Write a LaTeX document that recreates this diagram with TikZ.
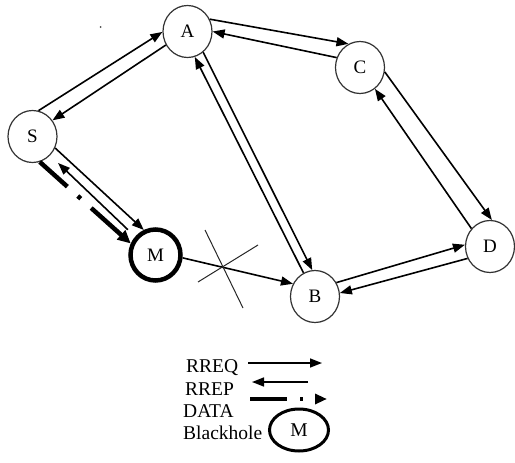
\documentclass[tikz,border=0pt]{standalone}
\usepackage{fontspec}
\setmainfont{Liberation Serif}
\usetikzlibrary{arrows.meta,shapes.geometric}

\begin{document}
\begin{tikzpicture}[x=1pt,y=-1pt,
  station/.style={ellipse, draw=black!80, line width=1.2pt, minimum width=49pt,
    minimum height=52pt, inner sep=0pt, font=\fontsize{19}{19}\selectfont},
  blackhole/.style={station, draw=black, line width=4.5pt, minimum width=50pt,
    minimum height=51pt},
  req/.style={line width=1.6pt, -{Triangle[length=12pt,width=9pt]}},
  datapath/.style={line width=4.5pt,
    dash pattern=on 37pt off 14pt on 4pt off 14pt on 200pt off 0pt,
    -{Triangle[length=13pt,width=12pt]}},
  legendtext/.style={anchor=base west, inner sep=0pt,
    font=\fontsize{19.5}{19.5}\selectfont},
  cut/.style={line width=1pt, draw=black!85},
]
\useasboundingbox (0,0) rectangle (515,463);

% network nodes
\node[station] (S) at (32.5,136.5) {S};
\node[station] (A) at (187.5,31.5) {A};
\node[station] (C) at (360,67.5) {C};
\node[station] (D) at (490,246.5) {D};
\node[station] (B) at (315,296.5) {B};
\node[blackhole] (M) at (155.5,255) {M};

% request / reply pairs
\draw[req] (S.77) -- (A.181);
\draw[req] (A.212) -- (S.39);
\draw[req] (A.29) -- (C.116);
\draw[req] (C.157) -- (A.0);
\draw[req] (A.-53) -- (B.96);
\draw[req] (B.116) -- (A.-74);
\draw[req] (C.-10) -- (D.86);
\draw[req] (D.136) -- (C.-55);
\draw[req] (B.33) -- (D.176);
\draw[req] (D.208) -- (B.8);
\draw[req] (S.-27) -- (M.115);
\draw[req, shorten <=10pt, shorten >=11pt] (M.138) -- (S.-47);

% data towards the blackhole
\draw[datapath] (S.-74) -- (M.155);

% forwarding that never happens
\draw[req] (M.-6) -- (B.150);
\coordinate (x1) at (205,230);
\coordinate (x2) at (243,308);
\coordinate (x3) at (198,282);
\coordinate (x4) at (258,245);
\draw[cut] (x1) -- (x2);
\draw[cut] (x3) -- (x4);

% small speck
\fill[black!70] (100.5,27) circle (1pt);

% legend
\node[legendtext] (lreq) at (186,372) {RREQ};
\node[legendtext] (lrep) at (185,395) {RREP};
\node[legendtext] (ldata) at (183,417) {DATA};
\node[legendtext] (lbh) at (183,439) {Blackhole};

\coordinate (q1) at (248,363);
\coordinate (q2) at (322,363);
\draw[req] (q1) -- (q2);
\coordinate (p1) at (308,382);
\coordinate (p2) at (252,382);
\draw[req] (p1) -- (p2);
\coordinate (d1) at (250,399);
\coordinate (d2) at (327,399);
\draw[line width=4.5pt, dash pattern=on 37pt off 13pt on 3pt off 40pt,
  -{Triangle[length=12pt,width=10pt]}] (d1) -- (d2);
\node[ellipse, draw, line width=3pt, minimum width=59pt, minimum height=42pt,
  inner sep=0pt, font=\fontsize{19.5}{19.5}\selectfont] (lm) at (299,430) {M};
\end{tikzpicture}
\end{document}
